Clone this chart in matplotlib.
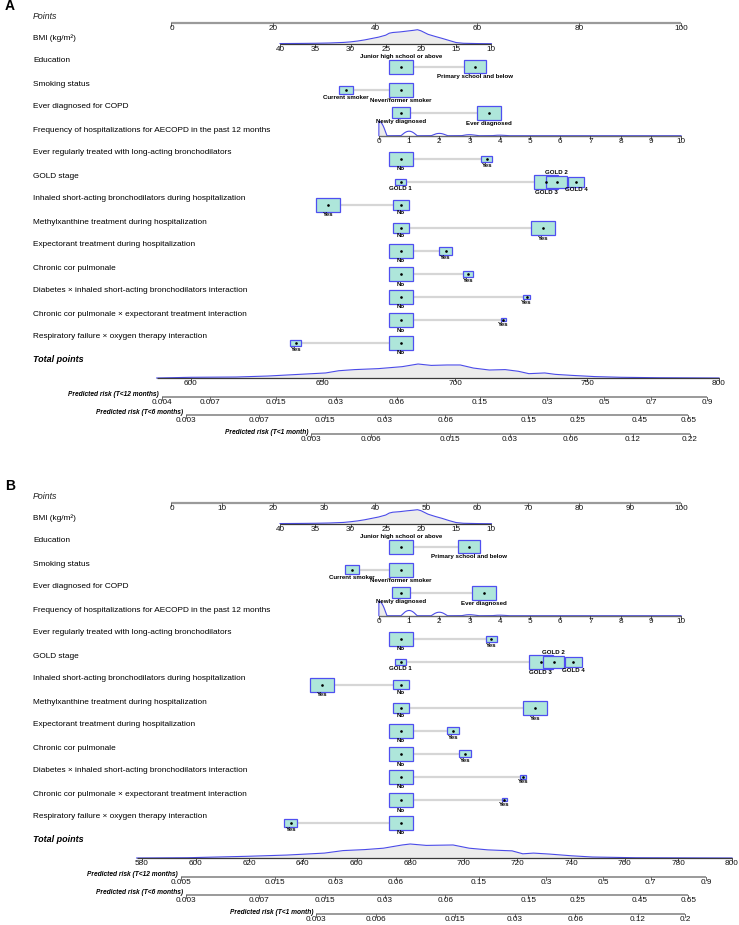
import numpy as np
import matplotlib
matplotlib.use('Agg')
import matplotlib.pyplot as plt
from matplotlib.patches import Rectangle
from matplotlib.transforms import blended_transform_factory

plt.rcParams['font.family'] = ['Liberation Sans', 'DejaVu Sans']

# ---------------- data ----------------
row_labels = [
    'BMI (kg/m²)', 'Education', 'Smoking status', 'Ever diagnosed for COPD',
    'Frequency of hospitalizations for AECOPD in the past 12 months',
    'Ever regularly treated with long-acting bronchodilators', 'GOLD stage',
    'Inhaled short-acting bronchodilators during hospitalization',
    'Methylxanthine treatment during hospitalization',
    'Expectorant treatment during hospitalization', 'Chronic cor pulmonale',
    'Diabetes × inhaled short-acting bronchodilators interaction',
    'Chronic cor pulmonale × expectorant treatment interaction',
    'Respiratory failure × oxygen therapy interaction',
]

edu_levels = ['Junior high school or above', 'Primary school and below']
smk_levels = ['Current smoker', 'Never/former smoker']
copd_levels = ['Newly diagnosed', 'Ever diagnosed']
gold_levels = ['GOLD 1', 'GOLD 2', 'GOLD 3', 'GOLD 4']
yn_levels = ['No', 'Yes']

# points for each level (panel A)
edu_pts_a = [45.0, 59.5]
smk_pts_a = [34.2, 45.0]
copd_pts_a = [45.0, 62.3]
lab_pts_a = [45.0, 61.9]
gold_pts_a = [45.0, 75.6, 73.6, 79.4]
saba_pts_a = [45.0, 30.7]
mxt_pts_a = [45.0, 73.0]
exp_pts_a = [45.0, 53.8]
ccp_pts_a = [45.0, 58.2]
dm_saba_pts_a = [45.0, 69.7]
ccp_exp_pts_a = [45.0, 65.1]
rf_o2_pts_a = [45.0, 24.4]

# share of patients in each level (panel A), sets box size
edu_pct_a = [54, 46]
smk_pct_a = [25, 75]
copd_pct_a = [36, 64]
lab_pct_a = [83, 17]
gold_pct_a = [8, 31, 41, 20]
saba_pct_a = [32, 68]
mxt_pct_a = [32, 68]
exp_pct_a = [77, 23]
ccp_pct_a = [83, 17]
dm_saba_pct_a = [92, 8]
ccp_exp_pct_a = [96, 4]
rf_o2_pct_a = [83, 17]

# panel B
edu_pts_b = [45.0, 58.4]
smk_pts_b = [35.4, 45.0]
copd_pts_b = [45.0, 61.3]
lab_pts_b = [45.0, 62.8]
gold_pts_b = [45.0, 75.0, 72.5, 78.9]
saba_pts_b = [45.0, 29.5]
mxt_pts_b = [45.0, 71.3]
exp_pts_b = [45.0, 55.2]
ccp_pts_b = [45.0, 57.6]
dm_saba_pts_b = [45.0, 69.0]
ccp_exp_pts_b = [45.0, 65.3]
rf_o2_pts_b = [45.0, 23.4]

edu_pct_b = [55, 45]
smk_pct_b = [27, 73]
copd_pct_b = [37, 63]
lab_pct_b = [84, 16]
gold_pct_b = [8, 31, 40, 21]
saba_pct_b = [30, 70]
mxt_pct_b = [32, 68]
exp_pct_b = [79, 21]
ccp_pct_b = [81, 19]
dm_saba_pct_b = [93, 7]
ccp_exp_pct_b = [96, 4]
rf_o2_pct_b = [76, 24]

# continuous predictors
bmi_ticks = [40, 35, 30, 25, 20, 15, 10]
bmi_end_pts_a = [21.3, 62.8]      # points at BMI 40 and BMI 10
bmi_end_pts_b = [21.3, 62.8]
bmi_grid = [40, 37, 35, 33, 31, 30, 29, 28, 27, 26, 25, 24.5, 24, 23, 22,
            21, 20.5, 20, 19, 18, 17, 16, 15, 14, 12, 10]
bmi_dens_a = [0.01, 0.02, 0.03, 0.05, 0.09, 0.13, 0.19, 0.27, 0.37, 0.47,
              0.61, 0.75, 0.80, 0.84, 0.90, 0.96, 1.0, 0.92, 0.67, 0.52,
              0.38, 0.23, 0.08, 0.03, 0.01, 0.0]
bmi_dens_b = [0.01, 0.02, 0.03, 0.05, 0.09, 0.14, 0.20, 0.28, 0.38, 0.48,
              0.62, 0.76, 0.82, 0.86, 0.92, 0.97, 1.0, 0.93, 0.68, 0.52,
              0.38, 0.22, 0.08, 0.03, 0.01, 0.0]

freq_ticks = list(range(11))
freq_end_pts = [40.7, 100.0]      # points at 0 and 10 admissions
freq_dens_a = [1.0, 0.31, 0.16, 0.07, 0.035, 0, 0, 0, 0, 0, 0]
freq_dens_b = [1.0, 0.36, 0.24, 0.07, 0.035, 0, 0, 0, 0, 0, 0]

# total points
total_ticks_a = [600, 650, 700, 750, 800]
total_ticks_b = list(range(580, 801, 20))
total_grid_a = [587, 600, 617, 629, 639, 646, 651, 656, 662, 671, 680, 686,
                691, 697, 702, 707, 713, 719, 724, 728, 734, 738, 744, 753,
                763, 777, 800]
total_dens_a = [0.0, 0.05, 0.07, 0.14, 0.24, 0.31, 0.36, 0.52, 0.60, 0.67,
                0.81, 1.0, 0.90, 0.93, 0.93, 0.71, 0.57, 0.60, 0.48, 0.31,
                0.36, 0.26, 0.19, 0.10, 0.05, 0.02, 0.0]
total_grid_b = [578, 597, 619, 634, 641, 648, 655, 663, 670, 677, 680, 686,
                696, 702, 709, 718, 722, 726, 732, 740, 748, 764, 800]
total_dens_b = [0.0, 0.02, 0.12, 0.21, 0.28, 0.35, 0.53, 0.60, 0.70, 0.93,
                1.0, 0.90, 0.93, 0.70, 0.58, 0.51, 0.30, 0.35, 0.28, 0.16,
                0.07, 0.02, 0.0]

# predicted risk axes (Cox model: cloglog(risk) = c + beta * (total - 700))
risk_names = ['Predicted risk (T<12 months)', 'Predicted risk (T<6 months)',
              'Predicted risk (T<1 month)']
risk_ticks_a = [[0.004, 0.007, 0.015, 0.03, 0.06, 0.15, 0.3, 0.5, 0.7, 0.9],
                [0.003, 0.007, 0.015, 0.03, 0.06, 0.15, 0.25, 0.45, 0.65],
                [0.003, 0.006, 0.015, 0.03, 0.06, 0.12, 0.22]]
risk_ticks_b = [[0.005, 0.015, 0.03, 0.06, 0.15, 0.3, 0.5, 0.7, 0.9],
                [0.003, 0.007, 0.015, 0.03, 0.06, 0.15, 0.25, 0.45, 0.65],
                [0.003, 0.006, 0.015, 0.03, 0.06, 0.12, 0.2]]
risk_c_a = [-2.103, -2.671, -4.129]
risk_c_b = [-1.993, -2.568, -4.085]
risk_beta_a = 0.030787
risk_beta_b = 0.031277

# ---------------- layout / style ----------------
W, H = 739, 925
X0_PX, PX_PER_PT = 171.5, 5.095          # 0 points at 171.5 px
TOTAL_PX_A = (600, 191.0, 800, 719.0)    # total points -> pixel anchors
TOTAL_PX_B = (580, 142.0, 800, 732.0)
PANEL_H = 445
BOX_W_PX, BOX_H_PX = 24.0, 14.0

box_fc = '#aee6da'
box_ec = '#4f4ff0'
dens_c = '#4b4be8'
dens_fill = '#ececec'
conn_c = '#d6d6d6'
axis_light = '#9a9a9a'
axis_dark = '#3a3a3a'

fs_row = 5.95
fs_tick = 5.9
fs_cat = 4.45
fs_risk = 4.8

label_pos_default = ['below', 'below']
edu_pos = ['above', 'below']
gold_pos = ['below', 'above', 'below', 'below']


def px2pt(px):
    return (px - X0_PX) / PX_PER_PT


def total_to_x(t, anchors):
    t0, p0, t1, p1 = anchors
    return px2pt(p0 + (np.asarray(t, float) - t0) * (p1 - p0) / (t1 - t0))


def cloglog(r):
    return np.log(-np.log(1 - np.asarray(r, float)))


def fmt(v):
    return '%g' % v


def draw_axis(ax, y, xs, labels, span, color, lw, tick_c, fs=fs_tick):
    ax.plot(span, [y, y], color=color, lw=lw, solid_capstyle='butt', zorder=4)
    for x, lab in zip(xs, labels):
        ax.plot([x, x], [y, y + 3.0], color=tick_c, lw=0.6, zorder=4)
        ax.text(x, y + 2.0, lab, ha='center', va='top', fontsize=fs,
                color='#111111', zorder=5)


def draw_density(ax, xs, dens, base, height=14.0, fill=True):
    ys = base - np.asarray(dens) * height
    if fill:
        ax.fill_between(xs, base, ys, color=dens_fill, lw=0, zorder=2)
    ax.plot(xs, ys, color=dens_c, lw=0.8, zorder=3)


def draw_cat(ax, y, pts, pct, levels, pos):
    ax.plot([min(pts), max(pts)], [y, y], color=conn_c, lw=1.6, zorder=1,
            solid_capstyle='butt')
    pmax = max(pct)
    order = sorted(range(len(pts)), key=lambda i: -pct[i])
    for i in order:
        s = np.sqrt(pct[i] / pmax)
        w = BOX_W_PX * s / PX_PER_PT
        h = BOX_H_PX * s
        ax.add_patch(Rectangle((pts[i] - w / 2, y - h / 2), w, h, fc=box_fc,
                               ec=box_ec, lw=0.9, zorder=3))
        ax.plot(pts[i], y, marker='o', ms=0.9, color='black', zorder=4)
    for i in range(len(pts)):
        s = np.sqrt(pct[i] / pmax)
        h = BOX_H_PX * s
        if pos[i] == 'above':
            ax.text(pts[i], y - h / 2 - 0.6, levels[i], ha='center',
                    va='bottom', fontsize=fs_cat, fontweight='bold', zorder=5)
        else:
            ax.text(pts[i], y + h / 2 + 0.8, levels[i], ha='center',
                    va='top', fontsize=fs_cat, fontweight='bold', zorder=5)


def draw_panel(ax, letter, pt_ticks, bmi_end, bmi_dens, freq_dens, cats,
               tot_ticks, tot_grid, tot_dens, tot_anchor, risk_ticks, risk_c,
               risk_beta):
    ax.set_xlim(px2pt(0), px2pt(W))
    ax.set_ylim(PANEL_H, 0)
    ax.axis('off')
    tr = blended_transform_factory(ax.transAxes, ax.transData)
    lx = 33 / W

    ax.text(5 / W, 6.5, letter, transform=tr, fontsize=10, fontweight='bold',
            ha='left', va='center')

    # Points scale
    ax.text(lx, 16.5, 'Points', transform=tr, fontsize=6.3,
            fontstyle='italic', ha='left', va='center', color='#222222')
    draw_axis(ax, 23, pt_ticks, [fmt(v) for v in pt_ticks], [0, 100],
              axis_light, 1.6, '#555555')

    row_y = [38 + 23 * i for i in range(len(row_labels))]
    for lab, yy in zip(row_labels, row_y):
        ax.text(lx, yy, lab, transform=tr, fontsize=fs_row, ha='left',
                va='center')
    mark_y = [yy + 5.7 for yy in row_y]

    # BMI
    bmi_x = np.interp(bmi_ticks, [10, 40], [bmi_end[1], bmi_end[0]])
    gx = np.interp(bmi_grid, [10, 40], [bmi_end[1], bmi_end[0]])
    draw_density(ax, gx, bmi_dens, mark_y[0])
    draw_axis(ax, mark_y[0], bmi_x, [fmt(v) for v in bmi_ticks],
              [bmi_x[0], bmi_x[-1]], axis_dark, 0.9, axis_dark)

    # frequency of admissions (discrete density bumps)
    fx = np.interp(freq_ticks, [0, 10], freq_end_pts)
    grid = np.linspace(-0.32, 10.32, 1200)
    dens = np.zeros_like(grid)
    for k, d in zip(freq_ticks, freq_dens):
        u = np.clip(1 - ((grid - k) / 0.27) ** 2, 0, None)
        dens += d * u ** 1.2
    gxx = np.interp(grid, [0, 10], freq_end_pts)
    ys = mark_y[4] - dens * 14.5
    m0 = grid < 0.3
    ax.fill_between(gxx[m0], mark_y[4], ys[m0], color=dens_fill, lw=0, zorder=2)
    ax.plot(gxx, ys, color=dens_c, lw=0.8, zorder=3)
    draw_axis(ax, mark_y[4], fx, [str(v) for v in freq_ticks],
              [fx[0], fx[-1]], '#6a6a6a', 1.0, axis_dark)

    # categorical rows
    for (idx, pts, pct, levels, pos) in cats:
        draw_cat(ax, mark_y[idx], pts, pct, levels, pos)

    # Total points
    ax.text(lx, 359, 'Total points', transform=tr, fontsize=6.5,
            fontweight='bold', fontstyle='italic', ha='left', va='center')
    tgx = total_to_x(tot_grid, tot_anchor)
    draw_density(ax, tgx, tot_dens, 378)
    ttx = total_to_x(tot_ticks, tot_anchor)
    draw_axis(ax, 378, ttx, [str(v) for v in tot_ticks],
              [tgx[0], ttx[-1]], axis_dark, 0.9, axis_dark)

    # risk scales
    for name, ticks, c, yy in zip(risk_names, risk_ticks, risk_c,
                                  [397, 415, 434]):
        tot = 700 + (cloglog(ticks) - c) / risk_beta
        rx = total_to_x(tot, tot_anchor)
        draw_axis(ax, yy, rx, [fmt(v) for v in ticks], [rx[0], rx[-1]],
                  axis_light, 1.4, '#555555')
        ax.text(rx[0] - 3 / PX_PER_PT, yy - 2, name, ha='right', va='center',
                fontsize=fs_risk, fontweight='bold', fontstyle='italic')


fig = plt.figure(figsize=(W / 100, H / 100), dpi=100)
fig.patch.set_facecolor('white')
ax_a = fig.add_axes([0, 1 - PANEL_H / H, 1, PANEL_H / H])
ax_b = fig.add_axes([0, 0, 1, PANEL_H / H])

cats_a = [
    (1, edu_pts_a, edu_pct_a, edu_levels, edu_pos),
    (2, smk_pts_a, smk_pct_a, smk_levels, label_pos_default),
    (3, copd_pts_a, copd_pct_a, copd_levels, label_pos_default),
    (5, lab_pts_a, lab_pct_a, yn_levels, label_pos_default),
    (6, gold_pts_a, gold_pct_a, gold_levels, gold_pos),
    (7, saba_pts_a, saba_pct_a, yn_levels, label_pos_default),
    (8, mxt_pts_a, mxt_pct_a, yn_levels, label_pos_default),
    (9, exp_pts_a, exp_pct_a, yn_levels, label_pos_default),
    (10, ccp_pts_a, ccp_pct_a, yn_levels, label_pos_default),
    (11, dm_saba_pts_a, dm_saba_pct_a, yn_levels, label_pos_default),
    (12, ccp_exp_pts_a, ccp_exp_pct_a, yn_levels, label_pos_default),
    (13, rf_o2_pts_a, rf_o2_pct_a, yn_levels, label_pos_default),
]
cats_b = [
    (1, edu_pts_b, edu_pct_b, edu_levels, edu_pos),
    (2, smk_pts_b, smk_pct_b, smk_levels, label_pos_default),
    (3, copd_pts_b, copd_pct_b, copd_levels, label_pos_default),
    (5, lab_pts_b, lab_pct_b, yn_levels, label_pos_default),
    (6, gold_pts_b, gold_pct_b, gold_levels, gold_pos),
    (7, saba_pts_b, saba_pct_b, yn_levels, label_pos_default),
    (8, mxt_pts_b, mxt_pct_b, yn_levels, label_pos_default),
    (9, exp_pts_b, exp_pct_b, yn_levels, label_pos_default),
    (10, ccp_pts_b, ccp_pct_b, yn_levels, label_pos_default),
    (11, dm_saba_pts_b, dm_saba_pct_b, yn_levels, label_pos_default),
    (12, ccp_exp_pts_b, ccp_exp_pct_b, yn_levels, label_pos_default),
    (13, rf_o2_pts_b, rf_o2_pct_b, yn_levels, label_pos_default),
]

draw_panel(ax_a, 'A', list(range(0, 101, 20)), bmi_end_pts_a, bmi_dens_a,
           freq_dens_a, cats_a, total_ticks_a, total_grid_a, total_dens_a,
           TOTAL_PX_A, risk_ticks_a, risk_c_a, risk_beta_a)
draw_panel(ax_b, 'B', list(range(0, 101, 10)), bmi_end_pts_b, bmi_dens_b,
           freq_dens_b, cats_b, total_ticks_b, total_grid_b, total_dens_b,
           TOTAL_PX_B, risk_ticks_b, risk_c_b, risk_beta_b)

fig.savefig('out.png', dpi=100, facecolor='white')
